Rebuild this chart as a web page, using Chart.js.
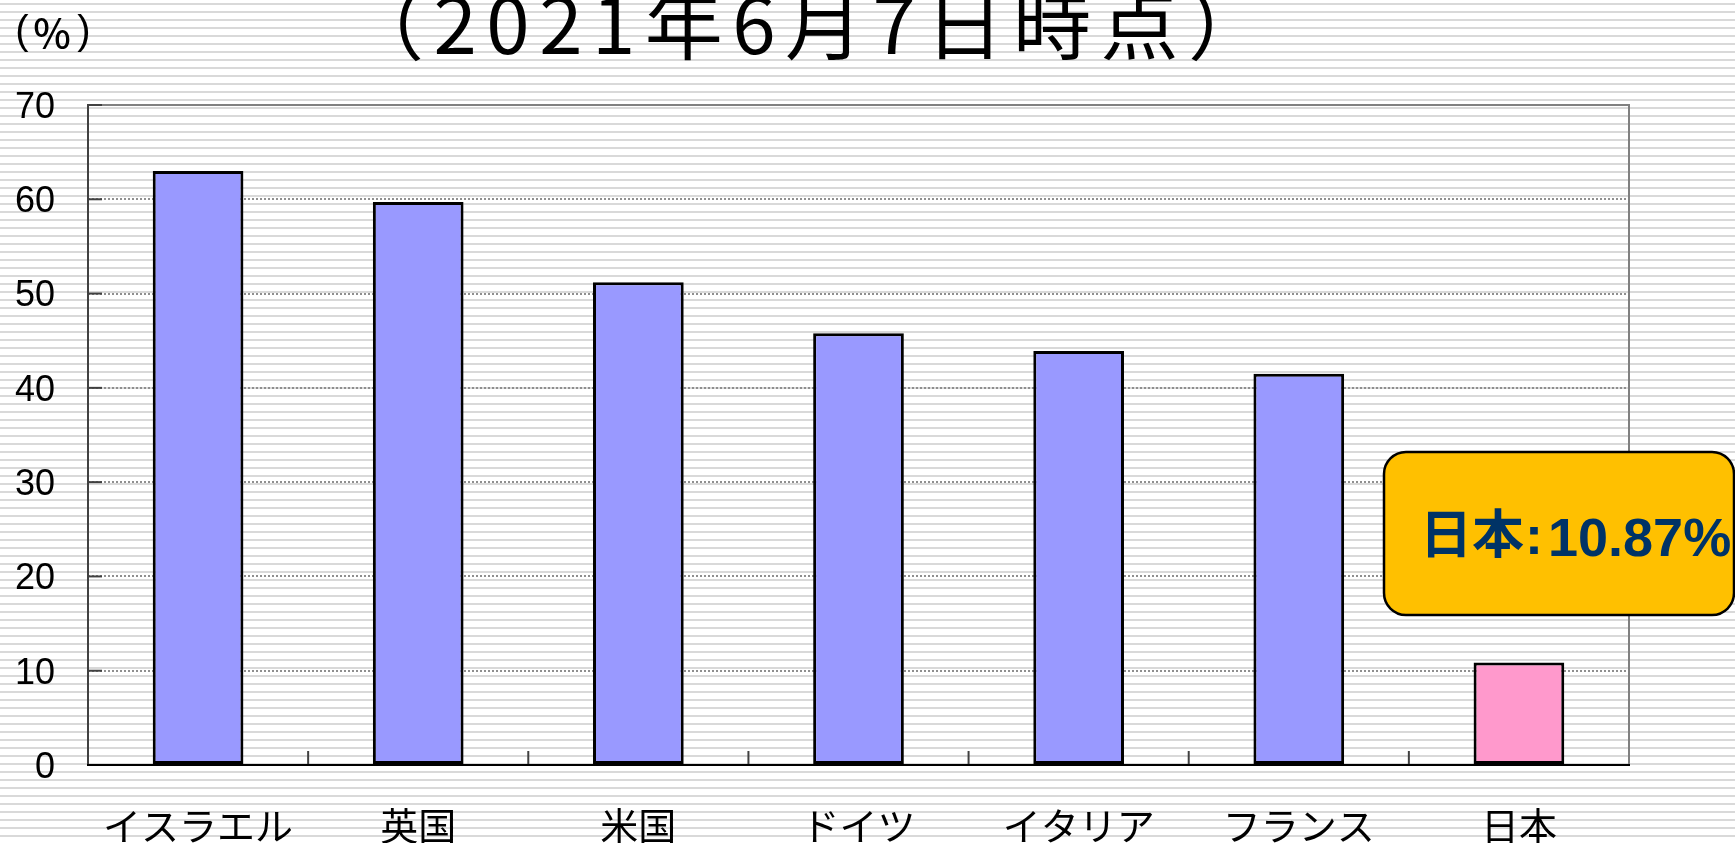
<!DOCTYPE html>
<html><head><meta charset="utf-8">
<script src="https://cdn.jsdelivr.net/npm/chart.js@4"></script>
<style>html,body{margin:0;padding:0;background:#fff;overflow:hidden}canvas{display:block}</style>
</head><body>
<canvas id="c" width="1735" height="843"></canvas>
<script>
const categories = ['イスラエル', '英国', '米国', 'ドイツ', 'イタリア', 'フランス', '日本'];
const vaccinationRate = [63.0, 59.7, 51.2, 45.8, 43.9, 41.5, 10.87];
const barColors = ['#9999FF', '#9999FF', '#9999FF', '#9999FF', '#9999FF', '#9999FF', '#FF99CC'];
const yTickValues = [0, 10, 20, 30, 40, 50, 60, 70];
const titleText = '（2021年6月7日時点）';
const unitChars = ['(', '%', ')'];
const highlightIndex = 6;

const JP = '"Noto Sans CJK JP", "Noto Sans", sans-serif';
const LAT = '"Liberation Sans", Arial, sans-serif';

const stripes = {
  id: 'stripes',
  beforeDraw(chart) {
    const ctx = chart.ctx;
    ctx.save();
    ctx.fillStyle = '#ffffff';
    ctx.fillRect(0, 0, chart.width, chart.height);
    ctx.fillStyle = '#d9d9d9';
    for (let y = 3; y < chart.height; y += 8) ctx.fillRect(0, y, chart.width, 2);
    ctx.restore();
  }
};

const frame = {
  id: 'frame',
  afterDatasetsDraw(chart) {
    const ctx = chart.ctx, a = chart.chartArea, ys = chart.scales.y, xs = chart.scales.x;
    ctx.save();
    ctx.lineCap = 'butt';
    ctx.strokeStyle = '#808080'; ctx.lineWidth = 2;
    ctx.beginPath();
    ctx.moveTo(a.left, a.top); ctx.lineTo(a.right, a.top); ctx.lineTo(a.right, a.bottom);
    ctx.stroke();
    ctx.strokeStyle = '#404040'; ctx.lineWidth = 2;
    ctx.beginPath(); ctx.moveTo(a.left, a.top - 1); ctx.lineTo(a.left, a.bottom); ctx.stroke();
    yTickValues.forEach(v => {
      if (v === 0) return;
      const py = ys.getPixelForValue(v);
      ctx.beginPath(); ctx.moveTo(a.left, py); ctx.lineTo(a.left + 14, py); ctx.stroke();
    });
    for (let i = 1; i < categories.length; i++) {
      const px = (xs.getPixelForValue(i - 1) + xs.getPixelForValue(i)) / 2;
      ctx.beginPath(); ctx.moveTo(px, a.bottom); ctx.lineTo(px, a.bottom - 14); ctx.stroke();
    }
    ctx.strokeStyle = '#000000'; ctx.lineWidth = 2;
    ctx.beginPath(); ctx.moveTo(a.left - 1, a.bottom); ctx.lineTo(a.right + 1, a.bottom); ctx.stroke();
    ctx.restore();
  },
  afterDraw(chart) {
    const ctx = chart.ctx;
    ctx.save();
    // Title (clipped at top like the reference)
    const fs = 78;
    ctx.font = fs + 'px ' + JP;
    ctx.letterSpacing = '0px';
    let m = ctx.measureText(titleText);
    const ink = m.actualBoundingBoxLeft + m.actualBoundingBoxRight;
    const n = Array.from(titleText).length;
    const sp = Math.max(0, (812 - ink) / (n - 1));
    ctx.letterSpacing = sp + 'px';
    m = ctx.measureText(titleText);
    ctx.fillStyle = '#000';
    ctx.textAlign = 'left';
    ctx.textBaseline = 'alphabetic';
    ctx.fillText(titleText, 400 + m.actualBoundingBoxLeft, 54);
    ctx.letterSpacing = '0px';

    // unit label
    ctx.textAlign = 'center';
    ctx.textBaseline = 'middle';
    const ux = [22, 52, 84];
    const uf = ['40px ' + LAT, '500 40px ' + JP, '40px ' + LAT];
    unitChars.forEach((ch, i) => { ctx.font = uf[i]; ctx.fillText(ch, ux[i], 33); });

    // Callout box
    const bx = 1384, by = 452, bw = 350, bh = 163;
    ctx.beginPath();
    ctx.roundRect(bx, by, bw, bh, 22);
    ctx.fillStyle = '#FFC000';
    ctx.fill();
    ctx.lineWidth = 2.5;
    ctx.strokeStyle = '#000';
    ctx.stroke();
    ctx.fillStyle = '#003366';
    ctx.textAlign = 'left';
    ctx.textBaseline = 'alphabetic';
    const parts = [categories[highlightIndex], ':', vaccinationRate[highlightIndex].toFixed(2) + '%'];
    ctx.font = 'bold 52px ' + JP;
    ctx.fillText(parts[0], 1420, 553);
    ctx.font = 'bold 54px ' + LAT;
    ctx.fillText(parts[1], 1525, 554);
    ctx.fillText(parts[2], 1548, 556);
    ctx.restore();
  }
};

new Chart(document.getElementById('c'), {
  type: 'bar',
  data: {
    labels: categories,
    datasets: [{
      data: vaccinationRate,
      backgroundColor: barColors,
      borderColor: '#000000',
      borderWidth: 3,
      borderSkipped: false,
      barPercentage: 0.412,
      categoryPercentage: 1.0
    }]
  },
  options: {
    responsive: false,
    animation: false,
    devicePixelRatio: 1,
    layout: { padding: { left: 0, right: 106, top: 105, bottom: 0 } },
    plugins: { legend: { display: false }, tooltip: { enabled: false }, title: { display: false } },
    scales: {
      x: {
        grid: { display: false, drawTicks: false },
        border: { display: false },
        ticks: { font: { family: JP, size: 38 }, color: '#000', padding: 38, maxRotation: 0, autoSkip: false },
        afterFit(s) { s.height = 78; }
      },
      y: {
        min: 0, max: 70,
        grid: {
          drawTicks: false,
          lineWidth: 2,
          color: c => (c.tick && (c.tick.value === 0 || c.tick.value === 70)) ? 'rgba(0,0,0,0)' : '#8f8f8f'
        },
        border: { display: false, dash: [2, 2] },
        ticks: {
          stepSize: 10,
          font: { family: LAT, size: 36 },
          color: '#000',
          padding: 33,
          labelOffset: 3
        },
        afterFit(s) { s.width = 88; }
      }
    }
  },
  plugins: [stripes, frame]
});
</script>
</body></html>
